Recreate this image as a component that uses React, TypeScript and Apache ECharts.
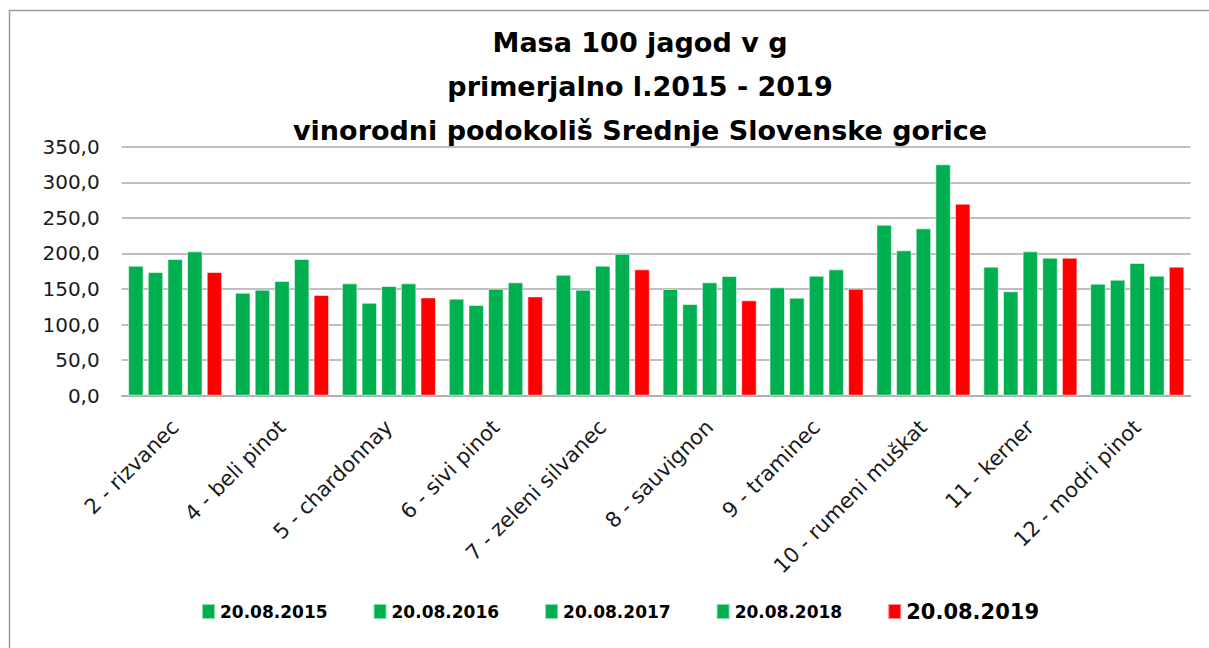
import React, { useEffect, useRef } from "react";
import * as echarts from "echarts";

const categories = [
  "2 - rizvanec",
  "4 - beli pinot",
  "5 - chardonnay",
  "6 - sivi pinot",
  "7 - zeleni silvanec",
  "8 - sauvignon",
  "9 - traminec",
  "10 - rumeni muškat",
  "11 - kerner",
  "12 - modri pinot",
];

const seriesNames = ["20.08.2015", "20.08.2016", "20.08.2017", "20.08.2018", "20.08.2019"];

const v2015 = [182.8, 144.8, 157.9, 136.4, 170.1, 150.0, 152.3, 240.4, 181.4, 157.5];
const v2016 = [173.9, 149.0, 130.7, 127.5, 149.0, 128.9, 137.8, 204.3, 146.7, 163.1];
const v2017 = [192.1, 161.2, 154.2, 150.4, 182.8, 159.3, 168.7, 235.2, 202.9, 186.5];
const v2018 = [202.9, 192.1, 157.9, 159.3, 199.6, 168.2, 177.6, 325.2, 194.0, 168.7];
const v2019 = [173.9, 141.5, 138.2, 139.6, 177.6, 134.0, 150.4, 269.9, 194.0, 181.4];

const seriesValues = [v2015, v2016, v2017, v2018, v2019];
const seriesColors = ["#00B050", "#00B050", "#00B050", "#00B050", "#FF0000"];

const titleLines = [
  "Masa 100 jagod v g",
  "primerjalno l.2015 - 2019",
  "vinorodni podokoliš Srednje Slovenske gorice",
];

export default function App() {
  const ref = useRef<HTMLDivElement>(null);

  useEffect(() => {
    if (!ref.current) return;
    const chart = echarts.init(ref.current, null, { renderer: "svg" });
    const font = "'DejaVu Sans', sans-serif";
    chart.setOption({
      animation: false,
      backgroundColor: "#ffffff",
      graphic: [
        {
          type: "rect",
          shape: { x: 9.5, y: 10.5, width: 1300, height: 700 },
          style: { fill: "none", stroke: "#9a9a9a", lineWidth: 1.5 },
          z: 10,
        },
        ...titleLines.map((t, i) => ({
          type: "text",
          x: 640,
          y: 42 + i * 44,
          style: {
            text: t,
            fill: "#000000",
            font: `bold 27px ${font}`,
            textAlign: "center",
            textVerticalAlign: "middle",
          },
        })),
      ],
      grid: { left: 121.7, right: 18.3, top: 146.7, bottom: 252.3, containLabel: false },
      legend: {
        left: 201,
        top: 601,
        padding: 0,
        itemWidth: 13,
        itemHeight: 15,
        itemGap: 45,
        icon: "rect",
        data: seriesNames.map((n, i) => ({
          name: n,
          textStyle:
            i === 4
              ? { fontSize: 21, fontWeight: "bold", color: "#000", fontFamily: font }
              : { fontSize: 17, fontWeight: "bold", color: "#000", fontFamily: font },
        })),
        textStyle: { fontFamily: font, fontWeight: "bold", color: "#000" },
      },
      xAxis: {
        type: "category",
        data: categories,
        axisLine: { show: true, lineStyle: { color: "#aaaaaa", width: 1.5 } },
        axisTick: { show: false },
        axisLabel: {
          rotate: 45,
          margin: 28,
          interval: 0,
          fontSize: 21,
          fontFamily: font,
          color: "#1a1a1a",
        },
      },
      yAxis: {
        type: "value",
        min: 0,
        max: 350,
        interval: 50,
        axisLine: { show: false },
        axisTick: { show: false },
        splitLine: { lineStyle: { color: "#aaaaaa", width: 1.5 } },
        axisLabel: {
          margin: 22,
          fontSize: 20,
          fontFamily: font,
          color: "#1a1a1a",
          formatter: (v: number) => v.toFixed(1).replace(".", ","),
        },
      },
      series: seriesNames.map((n, i) => ({
        name: n,
        type: "bar",
        data: seriesValues[i],
        barCategoryGap: "12%",
        barGap: "27%",
        itemStyle: {
          color: seriesColors[i],
          borderColor: "rgba(255,255,255,0.55)",
          borderWidth: 1,
        },
      })),
    });
    return () => chart.dispose();
  }, []);

  return (
    <div
      ref={ref}
      style={{ position: "absolute", left: 0, top: 0, width: 1209, height: 648 }}
    />
  );
}
